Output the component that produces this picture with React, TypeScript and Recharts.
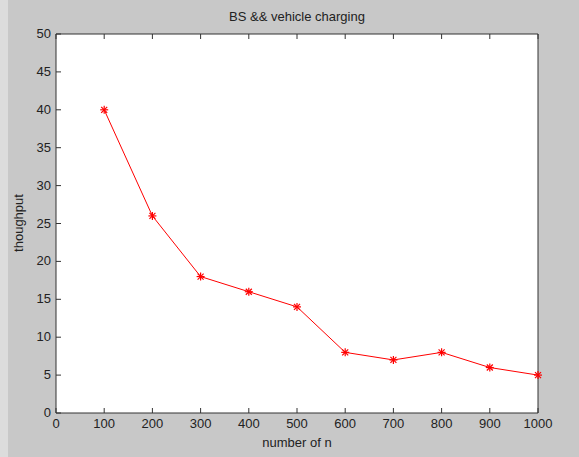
import React from 'react'
import { LineChart, Line, XAxis, YAxis } from 'recharts'

const nValues = [100, 200, 300, 400, 500, 600, 700, 800, 900, 1000]
const throughput = [40, 26, 18, 16, 14, 8, 7, 8, 6, 5]
const xTicks = [0, 100, 200, 300, 400, 500, 600, 700, 800, 900, 1000]
const yTicks = [0, 5, 10, 15, 20, 25, 30, 35, 40, 45, 50]

const data = nValues.map((n, i) => ({ n, v: throughput[i] }))

const FONT = 'Arial, "Liberation Sans", sans-serif'
const TXT = '#222'
const FS = 13

const BottomTick = ({ x, y, payload }: any) => (
  <g>
    <line x1={x} y1={y} x2={x} y2={y - 5} stroke="#333" />
    <text x={x} y={y + 15} textAnchor="middle" fontSize={FS} fontFamily={FONT} fill={TXT}>
      {payload.value}
    </text>
  </g>
)

const TopTick = ({ x, y }: any) => (
  <line x1={x} y1={y} x2={x} y2={y + 5} stroke="#333" />
)

const LeftTick = ({ x, y, payload }: any) => (
  <g>
    <line x1={x} y1={y} x2={x + 5} y2={y} stroke="#333" />
    <text x={x - 5} y={y + 4} textAnchor="end" fontSize={FS} fontFamily={FONT} fill={TXT}>
      {payload.value}
    </text>
  </g>
)

const RightTick = ({ x, y }: any) => (
  <line x1={x} y1={y} x2={x - 5} y2={y} stroke="#333" />
)

const Star = ({ cx, cy }: any) => {
  if (cx == null || cy == null) return null
  const r = 4
  const d = 3
  return (
    <g stroke="#ff0000" strokeWidth={1.2}>
      <line x1={cx - r} y1={cy} x2={cx + r} y2={cy} />
      <line x1={cx} y1={cy - r} x2={cx} y2={cy + r} />
      <line x1={cx - d} y1={cy - d} x2={cx + d} y2={cy + d} />
      <line x1={cx - d} y1={cy + d} x2={cx + d} y2={cy - d} />
    </g>
  )
}

export default function App() {
  return (
    <div
      style={{
        position: 'absolute',
        left: 0,
        top: 0,
        width: 579,
        height: 457,
        background: '#c8c8c8',
        overflow: 'hidden',
      }}
    >
      <div style={{ position: 'absolute', left: 0, top: 0, width: 8, height: 457, background: '#dcdcdc' }} />
      <div
        style={{
          position: 'absolute',
          left: 56,
          top: 34,
          width: 482,
          height: 379,
          background: '#fff',
        }}
      />
      <div
        style={{
          position: 'absolute',
          left: 56,
          width: 482,
          top: 9,
          textAlign: 'center',
          fontFamily: FONT,
          fontSize: FS,
          color: TXT,
        }}
      >
        BS &amp;&amp; vehicle charging
      </div>
      <div
        style={{
          position: 'absolute',
          left: 56,
          width: 482,
          top: 435,
          textAlign: 'center',
          fontFamily: FONT,
          fontSize: FS,
          color: TXT,
        }}
      >
        number of n
      </div>
      <div
        style={{
          position: 'absolute',
          left: 18,
          top: 223,
          transform: 'translate(-50%, -50%) rotate(-90deg)',
          fontFamily: FONT,
          fontSize: FS,
          color: TXT,
          whiteSpace: 'nowrap',
        }}
      >
        thoughput
      </div>
      <div style={{ position: 'absolute', left: 0, top: 0 }}>
        <LineChart
          width={579}
          height={457}
          data={data}
          margin={{ top: 0, right: 0, bottom: 0, left: 0 }}
        >
          <XAxis
            xAxisId="b"
            dataKey="n"
            type="number"
            domain={[0, 1000]}
            ticks={xTicks}
            orientation="bottom"
            height={44}
            tickSize={0}
            tickMargin={0}
            axisLine={{ stroke: '#333' }}
            tickLine={false}
            tick={<BottomTick />}
            interval={0}
          />
          <XAxis
            xAxisId="t"
            dataKey="n"
            type="number"
            domain={[0, 1000]}
            ticks={xTicks}
            orientation="top"
            height={34}
            tickSize={0}
            tickMargin={0}
            axisLine={{ stroke: '#333' }}
            tickLine={false}
            tick={<TopTick />}
            interval={0}
          />
          <YAxis
            yAxisId="l"
            type="number"
            domain={[0, 50]}
            ticks={yTicks}
            orientation="left"
            width={56}
            tickSize={0}
            tickMargin={0}
            axisLine={{ stroke: '#333' }}
            tickLine={false}
            tick={<LeftTick />}
            interval={0}
          />
          <YAxis
            yAxisId="r"
            type="number"
            domain={[0, 50]}
            ticks={yTicks}
            orientation="right"
            width={41}
            tickSize={0}
            tickMargin={0}
            axisLine={{ stroke: '#333' }}
            tickLine={false}
            tick={<RightTick />}
            interval={0}
          />
          <Line
            xAxisId="b"
            yAxisId="l"
            dataKey="v"
            type="linear"
            stroke="#ff0000"
            strokeWidth={1}
            dot={<Star />}
            activeDot={false}
            isAnimationActive={false}
          />
        </LineChart>
      </div>
    </div>
  )
}
